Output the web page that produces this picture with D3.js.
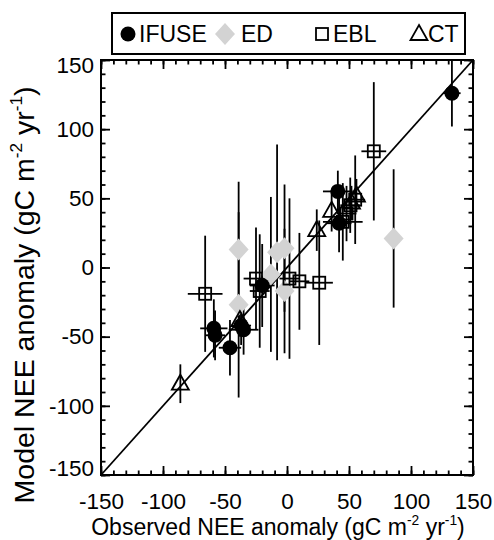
<!DOCTYPE html>
<html lang="en">
<head>
<meta charset="UTF-8">
<title>NEE anomaly</title>
<script src="https://d3js.org/d3.v7.min.js"></script>
<style>
  body { margin: 0; background: #fff; }
  svg { font-family: "Liberation Sans", Arial, Helvetica, sans-serif; }
</style>
</head>
<body>
<svg width="494" height="540"></svg>
<script>
    // observed vs model NEE anomaly (gC m-2 yr-1), errors are half-widths
    let ifuseObs    = [133, 41, 42, -59, -58, -46, -35, -37, -20];
    let ifuseMod    = [126, 55, 32, -44, -49, -58, -45, -42, -13];
    let ifuseObsErr = [7, 12, 10, 11, 8, 9, 12, 8, 10];
    let ifuseModErr = [24, 15, 21, 21, 18, 20, 18, 14, 30];

    let edObs    = [-39, -39, -8, -2, -13, -2, 86];
    let edMod    = [13, -27, 11, 14, -5, -17, 21];
    let edObsErr = [0, 0, 0, 0, 0, 0, 0];
    let edModErr = [49, 67, 78, 46, 56, 45, 50];

    let eblObs    = [70, 55, 51, 48, 45, -66, -25, -22, 2, 10, 26];
    let eblMod    = [84, 49, 45, 39, 33, -19, -8, -17, -8, -10, -11];
    let eblObsErr = [10, 8, 8, 8, 16, 14, 10, 8, 8, 8, 11];
    let eblModErr = [50, 32, 20, 20, 28, 42, 37, 41, 58, 35, 45];

    let ctObs    = [-86, -38, 24, 36, 52, 56];
    let ctMod    = [-84, -38, 27, 41, 47, 52];
    let ctObsErr = [0, 0, 0, 0, 0, 0];
    let ctModErr = [14, 12, 15, 15, 12, 12];

    let seriesNames = ["IFUSE", "ED", "EBL", "CT"];
    let tickValues = [-150, -100, -50, 0, 50, 100, 150];
    let minorValues = d3.range(-150, 151, 10);

    let svg = d3.select("svg"),
        x = d3.scaleLinear().domain([-150, 150]).range([101, 473]),
        y = d3.scaleLinear().domain([-150, 150]).range([475, 60]);

    function build(obs, mod, oe, me) {
        return obs.map(function(o, i) {
            return {o: o, m: mod[i], oe: oe[i], me: me[i]};
        });
    }

    let series = [
        {name: "ED",    data: build(edObs, edMod, edObsErr, edModErr)},
        {name: "EBL",   data: build(eblObs, eblMod, eblObsErr, eblModErr)},
        {name: "CT",    data: build(ctObs, ctMod, ctObsErr, ctModErr)},
        {name: "IFUSE", data: build(ifuseObs, ifuseMod, ifuseObsErr, ifuseModErr)}
    ];

    svg.append("clipPath").attr("id", "plot")
        .append("rect")
        .attr("x", x(-150)).attr("y", y(150))
        .attr("width", x(150) - x(-150)).attr("height", y(-150) - y(150));

    // 1:1 line
    svg.append("line")
        .attr("x1", x(-150)).attr("y1", y(-150))
        .attr("x2", x(150)).attr("y2", y(150))
        .attr("stroke", "#000").attr("stroke-width", 1.8);

    // error bars first
    let bars = svg.append("g").attr("clip-path", "url(#plot)")
        .attr("stroke", "#000").attr("stroke-width", 1.8);
    series.forEach(function(s) {
        s.data.forEach(function(d) {
            bars.append("line")
                .attr("x1", x(d.o)).attr("x2", x(d.o))
                .attr("y1", y(d.m - d.me)).attr("y2", y(d.m + d.me));
            if (d.oe > 0) {
                bars.append("line")
                    .attr("x1", x(d.o - d.oe)).attr("x2", x(d.o + d.oe))
                    .attr("y1", y(d.m)).attr("y2", y(d.m));
            }
        });
    });

    function drawMarker(g, name) {
        if (name === "IFUSE") {
            g.append("circle").attr("r", 7.5).attr("fill", "#000");
        } else if (name === "ED") {
            g.append("path").attr("d", "M0,-11L10,0L0,11L-10,0Z").attr("fill", "#d3d3d3");
        } else if (name === "EBL") {
            g.append("rect").attr("x", -6).attr("y", -6).attr("width", 12).attr("height", 12)
                .attr("fill", "none").attr("stroke", "#000").attr("stroke-width", 1.8);
        } else {
            g.append("path").attr("d", "M0,-9L8.5,6L-8.5,6Z")
                .attr("fill", "none").attr("stroke", "#000").attr("stroke-width", 1.8);
        }
    }

    series.forEach(function(s) {
        s.data.forEach(function(d) {
            let g = svg.append("g").attr("transform", "translate(" + x(d.o) + "," + y(d.m) + ")");
            drawMarker(g, s.name);
        });
    });

    // frame
    svg.append("rect")
        .attr("x", x(-150)).attr("y", y(150))
        .attr("width", x(150) - x(-150)).attr("height", y(-150) - y(150))
        .attr("fill", "none").attr("stroke", "#000").attr("stroke-width", 2);

    // axes on all four sides, ticks pointing in
    let axes = [
        [d3.axisBottom(x), "translate(0," + y(-150) + ")", 18],
        [d3.axisTop(x),    "translate(0," + y(150) + ")", 0],
        [d3.axisLeft(y),   "translate(" + x(-150) + ",0)", 7],
        [d3.axisRight(y),  "translate(" + x(150) + ",0)", 0]
    ];
    axes.forEach(function(a) {
        let minorG = svg.append("g").attr("transform", a[1])
            .call(a[0].tickValues(minorValues).tickSize(-4.5).tickFormat(""));
        minorG.select(".domain").remove();
        minorG.selectAll("line").attr("stroke-width", 1.8);

        let majorG = svg.append("g").attr("transform", a[1])
            .call(a[0].tickValues(tickValues).tickSize(-9).tickPadding(a[2])
                .tickFormat(a[2] ? function(d) { return String(d); } : ""));
        majorG.select(".domain").remove();
        majorG.selectAll("line").attr("stroke-width", 1.8);
        majorG.attr("font-size", 22.5).attr("font-family", null);
    });

    // y end labels sit slightly inside, as in the original
    svg.selectAll("g text").filter(function(d) {
        return this.parentNode.parentNode.getAttribute("transform") === "translate(101,0)";
    }).each(function(d) {
        if (d === 150) d3.select(this).attr("dy", "0.55em");
        if (d === -150) d3.select(this).attr("dy", "0.02em");
    });

    // axis titles
    function title(t, sz) {
        t.attr("font-size", sz).attr("text-anchor", "middle");
        t.append("tspan").text(t.attr("data-a"));
        t.append("tspan").attr("dy", -0.42 * sz).attr("font-size", sz * 0.6).text("-2");
        t.append("tspan").attr("dy", 0.42 * sz).text(" yr");
        t.append("tspan").attr("dy", -0.42 * sz).attr("font-size", sz * 0.6).text("-1");
        t.append("tspan").attr("dy", 0.42 * sz).text(")");
    }
    svg.append("text").attr("x", 278).attr("y", 534.5)
        .attr("data-a", "Observed NEE anomaly (gC m").call(title, 23);
    svg.append("text").attr("transform", "translate(34,295) rotate(-90)")
        .attr("data-a", "Model NEE anomaly (gC m").call(title, 28.5);

    // legend
    svg.append("rect").attr("x", 112).attr("y", 13).attr("width", 353).attr("height", 41)
        .attr("fill", "#fff").attr("stroke", "#000").attr("stroke-width", 2);
    let legendX = d3.scalePoint().domain(seriesNames).range([128, 419]);
    let textOffset = {IFUSE: 11, ED: 16, EBL: 11, CT: 9};
    seriesNames.forEach(function(n) {
        let g = svg.append("g").attr("transform", "translate(" + legendX(n) + ",34)");
        drawMarker(g, n);
        svg.append("text").attr("x", legendX(n) + textOffset[n]).attr("y", 42)
            .attr("font-size", 23).text(n);
    });
</script>
</body>
</html>
